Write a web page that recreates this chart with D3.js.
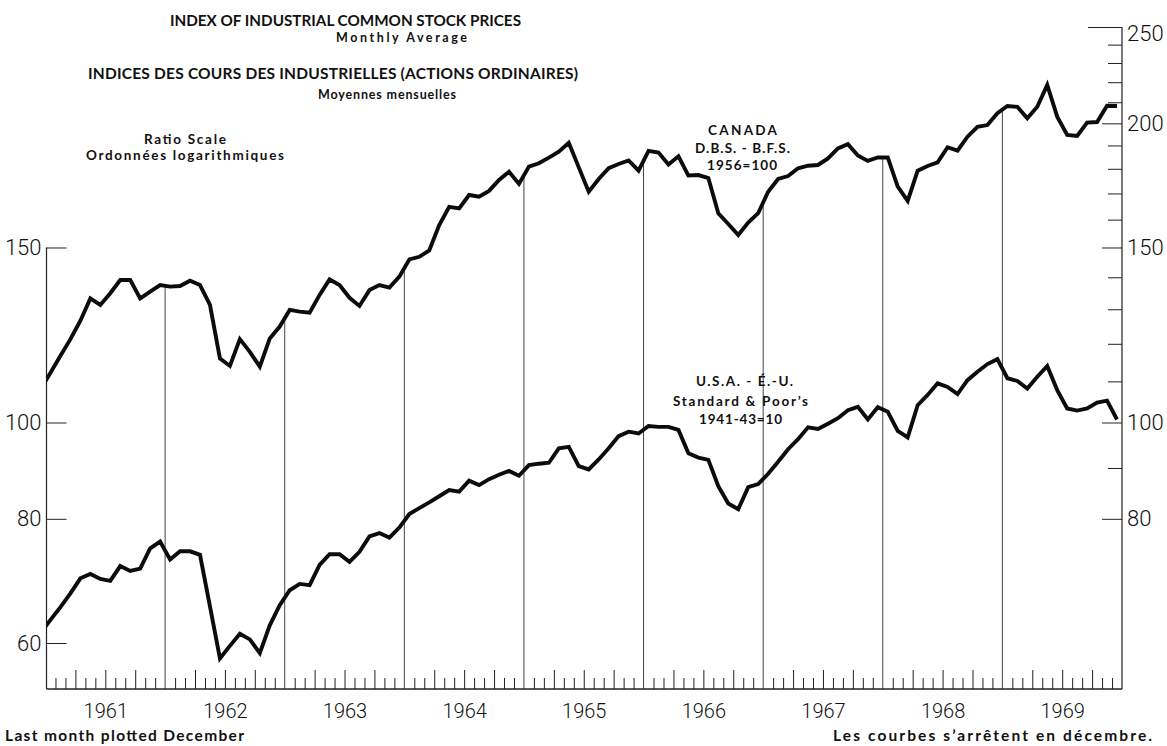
<!DOCTYPE html>
<html>
<head>
<meta charset="utf-8">
<script src="https://cdn.jsdelivr.net/npm/d3@7"></script>
<style>
  body { margin: 0; background: #fff; }
  svg { display: block; }
  .lbl { font-family: Lato, "Open Sans", sans-serif; font-weight: 700; fill: #111; }
  .num { font-family: Roboto, "Liberation Sans", sans-serif; font-weight: 300; fill: #111; }
</style>
</head>
<body>
<svg id="chart" width="1167" height="746"></svg>
<script>
// years on the x axis (monthly averages, Jan 1961 - Dec 1969)
const years = [1961, 1962, 1963, 1964, 1965, 1966, 1967, 1968, 1969];

// Canada, D.B.S. 1956=100 -- first value is Dec 1960 (cut off by the left axis)
const canada = [108.0,
  112.2, 116.7, 121.3, 126.6, 133.3, 131.3, 134.9, 139.1, 139.1, 133.3, 135.4, 137.5, // 1961
  137.0, 137.2, 138.9, 137.5, 131.3, 116.0, 114.0, 121.3, 117.8, 113.8, 121.5, 124.9, // 1962
  129.8, 129.3, 129.0, 134.4, 139.3, 137.5, 133.5, 131.0, 135.9, 137.5, 136.7, 140.2, // 1963
  145.9, 146.8, 149.0, 158.0, 164.8, 164.2, 169.4, 168.7, 171.0, 175.4, 178.8, 173.8, // 1964
  180.9, 182.3, 184.7, 187.3, 191.2, 180.6, 170.7, 175.8, 180.3, 182.0, 183.5, 179.2, // 1965
  187.6, 186.9, 181.8, 185.3, 177.2, 177.4, 176.2, 162.4, 158.4, 154.4, 158.9, 162.4, // 1966
  170.7, 175.8, 177.0, 180.2, 181.3, 181.6, 184.4, 188.7, 190.6, 185.6, 183.3, 184.8, // 1967
  184.8, 172.7, 167.1, 179.2, 181.2, 182.7, 189.2, 187.7, 193.9, 198.4, 199.2, 204.7, // 1968
  208.2, 207.8, 202.3, 207.8, 218.6, 203.1, 194.7, 194.2, 200.3, 200.6, 208.3, 208.2  // 1969
];

// U.S.A., Standard & Poor's 1941-43=10 -- first value is Dec 1960
const usa = [61.4,
  63.3, 65.2, 67.3, 69.7, 70.4, 69.6, 69.3, 71.7, 70.9, 71.3, 74.7, 75.9,  // 1961
  72.8, 74.2, 74.2, 73.6, 65.3, 57.9, 59.6, 61.3, 60.5, 58.6, 62.5, 65.5,  // 1962
  67.8, 68.8, 68.6, 71.9, 73.7, 73.7, 72.4, 74.1, 76.8, 77.4, 76.6, 78.4,  // 1963
  80.9, 82.0, 83.1, 84.3, 85.5, 85.2, 87.4, 86.5, 87.7, 88.6, 89.4, 88.4,  // 1964
  90.6, 90.9, 91.1, 94.2, 94.5, 90.4, 89.7, 91.8, 94.2, 96.9, 97.9, 97.5,  // 1965
  99.2, 99.0, 99.0, 98.3, 93.1, 92.2, 91.7, 86.3, 82.9, 81.8, 86.1, 86.7,  // 1966
  88.8, 91.3, 94.0, 96.2, 98.9, 98.5, 99.7, 101.0, 102.9, 103.7, 100.7, 103.6, // 1967
  102.5, 98.1, 96.6, 104.1, 106.6, 109.5, 108.6, 106.8, 110.3, 112.5, 114.5, 115.8, // 1968
  110.8, 110.1, 108.2, 111.2, 114.0, 107.8, 103.3, 102.8, 103.3, 104.7, 105.2, 100.7 // 1969
];

const leftTicks = [60, 80, 100, 150];
const rightTicks = [80, 100, 150, 200, 250];
const rightMinor = [90, 110, 120, 130, 140, 160, 170, 180, 190, 210, 220, 230, 240];

const svg = d3.select("#chart");
const base = 689, left = 46.5, right = 1122;

// x in months from Jan 1961, y ratio (log) scale
const x = d3.scaleLinear().domain([0, 108]).range([45.5, right]);
const y = d3.scaleLog().domain([60, 250]).range([643, 27]);
const mx = i => x(i - 1 + 0.5); // array index -> month centre

svg.append("clipPath").attr("id", "plot")
  .append("rect").attr("x", left).attr("y", 0).attr("width", right - left).attr("height", base);

// year separators, from the base up to the Canada curve
const sep = d3.range(1, years.length).map(k => {
  const j = 12 * k; // Dec of previous year in array
  return { x: x(12 * k), top: (y(canada[j]) + y(canada[j + 1])) / 2 };
});
svg.append("g").selectAll("line").data(sep).enter().append("line")
  .attr("x1", d => d.x).attr("x2", d => d.x)
  .attr("y1", base).attr("y2", d => d.top)
  .attr("stroke", "#444").attr("stroke-width", 1);

// month ticks on the base line
const months = d3.range(1, 108).filter(m => m % 12 !== 0);
svg.append("g").attr("transform", `translate(0,${base})`)
  .call(d3.axisBottom(x).tickValues(months.filter(m => m % 3 !== 0)).tickSize(-11).tickFormat(""))
  .call(g => g.select(".domain").remove());
svg.append("g").attr("transform", `translate(0,${base})`)
  .call(d3.axisBottom(x).tickValues(months.filter(m => m % 3 === 0)).tickSize(-19).tickFormat(""))
  .call(g => g.select(".domain").remove());
svg.append("g").attr("transform", `translate(0,${base})`)
  .call(d3.axisBottom(x).tickValues(years.map((yr, k) => 12 * k + 6))
    .tickFormat((d, k) => years[k]).tickSize(0).tickPadding(15))
  .call(g => g.select(".domain").remove())
  .selectAll("text").attr("class", "num").style("font-size", "20px");

// axis frame
svg.append("line").attr("x1", left).attr("x2", right).attr("y1", base).attr("y2", base)
  .attr("stroke", "#222").attr("stroke-width", 1.3);
svg.append("line").attr("x1", left).attr("x2", left).attr("y1", y(150)).attr("y2", base)
  .attr("stroke", "#222").attr("stroke-width", 1.2);
svg.append("line").attr("x1", right).attr("x2", right).attr("y1", y(250)).attr("y2", base)
  .attr("stroke", "#222").attr("stroke-width", 1.2);

// left scale
svg.append("g").attr("transform", `translate(${left},0)`)
  .call(d3.axisLeft(y).tickValues(leftTicks).tickSizeInner(-20).tickSizeOuter(0).tickPadding(5).tickFormat(d3.format("d")))
  .call(g => g.select(".domain").remove())
  .selectAll("text").attr("class", "num").style("font-size", "22px");

// right scale
svg.append("g").attr("transform", `translate(${right},0)`)
  .call(d3.axisRight(y).tickValues(rightMinor).tickSizeInner(-14).tickSizeOuter(0).tickFormat(""))
  .call(g => g.select(".domain").remove());
const ra = svg.append("g").attr("transform", `translate(${right},0)`)
  .call(d3.axisRight(y).tickValues(rightTicks).tickSizeInner(-20).tickSizeOuter(0).tickPadding(5).tickFormat(d3.format("d")))
  .call(g => g.select(".domain").remove());
ra.selectAll("text").attr("class", "num").style("font-size", "22px");
ra.selectAll(".tick").filter(d => d === 250).select("line").attr("x2", -34);
ra.selectAll(".tick").filter(d => d === 250).select("text").attr("dy", "0.6em");
svg.selectAll(".tick line").attr("stroke", "#222");

// the two curves
const line = d3.line().x((d, i) => mx(i)).y(d => y(d)).curve(d3.curveLinear);
[canada, usa].forEach(s => {
  svg.append("path").datum(s)
    .attr("clip-path", "url(#plot)")
    .attr("d", line)
    .attr("fill", "none").attr("stroke", "#0c0c0c")
    .attr("stroke-width", 3.9).attr("stroke-linejoin", "miter").attr("stroke-miterlimit", 3);
});

// texts: [text, x, baseline, width, font size]
const texts = [
  ["INDEX OF INDUSTRIAL COMMON STOCK PRICES", 170, 26, 351, 15.5],
  ["Monthly Average", 336, 42, 131, 12.5],
  ["INDICES DES COURS DES INDUSTRIELLES (ACTIONS ORDINAIRES)", 88, 79, 490, 15.5],
  ["Moyennes mensuelles", 318, 99, 138, 12.5],
  ["Ratio Scale", 144, 144, 82, 13.5],
  ["Ordonnées logarithmiques", 86, 160, 198, 13.5],
  ["CANADA", 708, 135, 69, 13.5],
  ["D.B.S. - B.F.S.", 695, 153, 95, 13.5],
  ["1956=100", 707, 170, 70, 13.5],
  ["U.S.A. - É.-U.", 696, 386, 97, 13.5],
  ["Standard & Poor’s", 673, 406, 135, 13.5],
  ["1941-43=10", 699, 424, 83, 13.5],
  ["Last month plotted December", 5, 741, 239, 15.5],
  ["Les courbes s’arrêtent en décembre.", 833, 741, 319, 15.5]
];
svg.append("g").selectAll("text").data(texts).enter().append("text")
  .attr("class", "lbl")
  .attr("x", d => d[1]).attr("y", d => d[2])
  .style("font-size", d => d[4] + "px")
  .text(d => d[0])
  .each(function (d) {
    // spread letters to the measured width; squeeze glyphs only when too wide
    const w = this.getComputedTextLength();
    d3.select(this).attr("textLength", d[3])
      .attr("lengthAdjust", w < d[3] ? "spacing" : "spacingAndGlyphs");
  });
</script>
</body>
</html>
